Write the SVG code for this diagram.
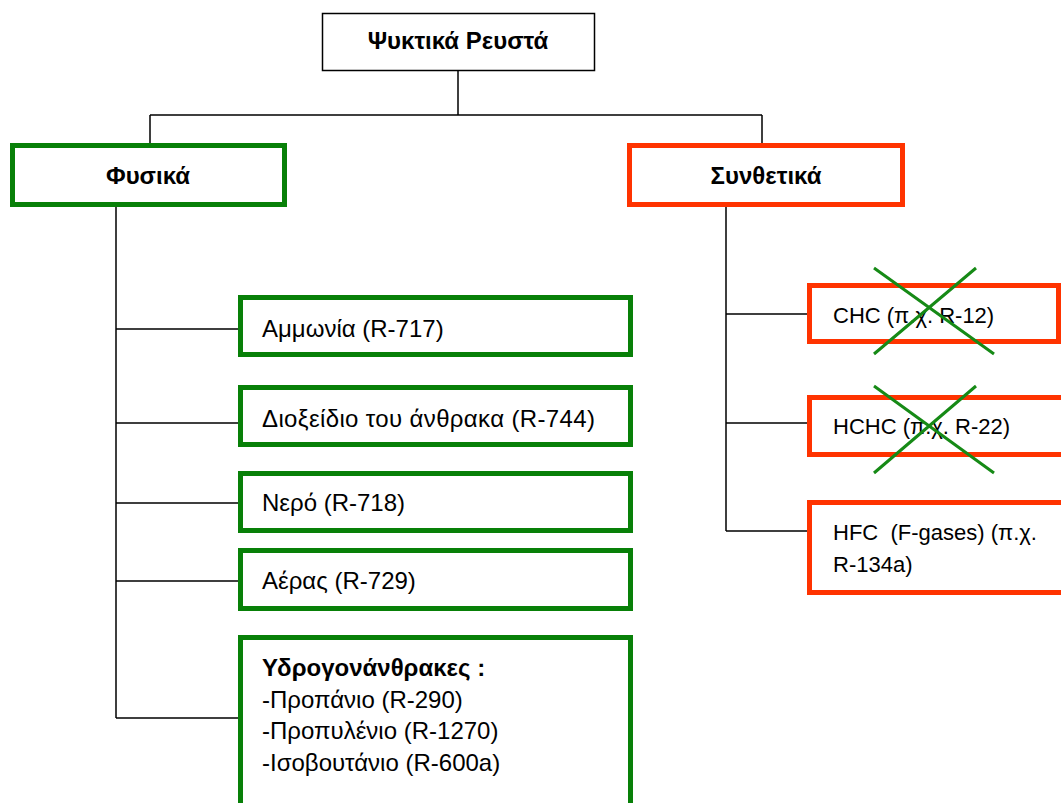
<svg xmlns="http://www.w3.org/2000/svg" width="1061" height="803" viewBox="0 0 1061 803">
<style>
.bg{fill:#fff}
.root{fill:#fff;stroke:#000;stroke-width:1.5}
.g{fill:#fff;stroke:#088008;stroke-width:5}
.r{fill:#fff;stroke:#ff3300;stroke-width:5}
.ln{fill:none;stroke:#000;stroke-width:1.5}
.x{stroke:#168a16;stroke-width:3}
text{font-family:"Liberation Sans",Arial,sans-serif;font-size:24px;fill:#000}
.b{font-weight:bold}
.s{font-size:22px}
</style>
<rect class="bg" x="0" y="0" width="1061" height="803"/>
<g id="connectors">
<path class="ln" d="M458 70V115M150 115H762M150 115V143M762 115V143"/>
<path class="ln" d="M116 207V718M116 329H240M116 423H240M116 503H240M116 581H240M116 718H240"/>
<path class="ln" d="M726 207V531M726 314H809M726 423H809M726 531H809"/>
</g>
<g id="root"><rect class="root" x="322.5" y="13.5" width="272" height="57"/><text class="b" x="458" y="49" text-anchor="middle">Ψυκτικά Ρευστά</text></g>
<g id="fysika"><rect class="g" x="12.5" y="145.5" width="272" height="59"/><text class="b" x="148" y="184" text-anchor="middle">Φυσικά</text></g>
<g id="synthetika"><rect class="r" x="629.5" y="145.5" width="273" height="59"/><text class="b" x="766" y="184" text-anchor="middle">Συνθετικά</text></g>
<g id="ammonia"><rect class="g" x="240.5" y="297.5" width="390" height="57"/><text x="262" y="337">Αμμωνία (R-717)</text></g>
<g id="co2"><rect class="g" x="240.5" y="387.5" width="390" height="57"/><text x="262" y="427" textLength="333">Διοξείδιο του άνθρακα (R-744)</text></g>
<g id="nero"><rect class="g" x="240.5" y="473.5" width="390" height="57"/><text x="262" y="511">Νερό (R-718)</text></g>
<g id="aeras"><rect class="g" x="240.5" y="550.5" width="390" height="58"/><text x="262" y="589">Αέρας (R-729)</text></g>
<g id="hydro"><rect class="g" x="240.5" y="637.5" width="390" height="180"/><text x="262" y="676"><tspan class="b">Υδρογονάνθρακες :</tspan><tspan x="262" y="708">-Προπάνιο (R-290)</tspan><tspan x="262" y="739">-Προπυλένιο (R-1270)</tspan><tspan x="262" y="771">-Ισοβουτάνιο (R-600a)</tspan></text></g>
<g id="chc"><rect class="r" x="809.5" y="285.5" width="249" height="56"/><text class="s" x="833" y="323">CHC (π.χ. R-12)</text><path class="x" d="M874 268L994 354M976 268L874 354"/></g>
<g id="hchc"><rect class="r" x="809.5" y="397.5" width="260" height="57"/><text class="s" x="833" y="434">HCHC (π.χ. R-22)</text><path class="x" d="M874 386L994 473M976 386L874 473"/></g>
<g id="hfc"><rect class="r" x="809.5" y="502.5" width="260" height="90"/><text class="s" x="833" y="540" xml:space="preserve">HFC  (F-gases) (π.χ.<tspan x="833" y="572">R-134a)</tspan></text></g>
</svg>
